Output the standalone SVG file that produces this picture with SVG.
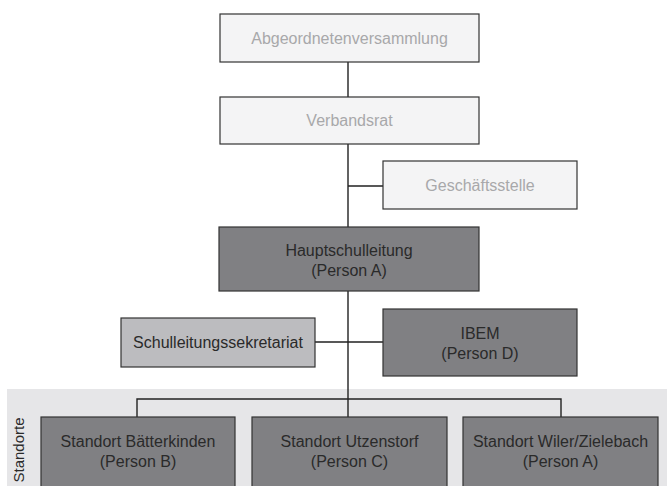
<svg xmlns="http://www.w3.org/2000/svg" width="667" height="486" viewBox="0 0 667 486">
<style>
.box{stroke:#333;stroke-width:1.2}
.light{fill:#f4f4f5}
.dark{fill:#808083}
.mid{fill:#bcbcbf}
text{font-family:"Liberation Sans",Arial,sans-serif;font-size:16px;text-anchor:middle}
.tl{fill:#a8a8aa}
.td{fill:#2a2a2a}
.conn{stroke:#222;stroke-width:1.4;fill:none}
</style>
<rect x="7" y="389" width="660" height="97" fill="#e6e6e8"/>
<text transform="translate(24,450) rotate(-90)" class="td" style="font-size:15px">Standorte</text>
<g id="connectors">
<path class="conn" d="M348 62V97M348 144V227M348 186H383M348 291V399M315 342H383M137 417V399H561V417M348 399V417"/>
</g>
<g id="abgeordnetenversammlung">
<rect class="box light" x="220" y="14" width="259" height="48"/>
<text class="tl" x="349.5" y="44">Abgeordnetenversammlung</text>
</g>
<g id="verbandsrat">
<rect class="box light" x="220" y="97" width="259" height="47"/>
<text class="tl" x="349.5" y="126">Verbandsrat</text>
</g>
<g id="geschaeftsstelle">
<rect class="box light" x="383" y="161" width="194" height="48"/>
<text class="tl" x="480" y="191">Geschäftsstelle</text>
</g>
<g id="hauptschulleitung">
<rect class="box dark" x="219" y="227" width="260" height="64"/>
<text class="td" x="349" y="256">Hauptschulleitung</text>
<text class="td" x="349" y="276">(Person A)</text>
</g>
<g id="schulleitungssekretariat">
<rect class="box mid" x="121" y="318" width="194" height="49"/>
<text class="td" x="218" y="348">Schulleitungssekretariat</text>
</g>
<g id="ibem">
<rect class="box dark" x="383" y="309" width="194" height="67"/>
<text class="td" x="480" y="339">IBEM</text>
<text class="td" x="480" y="359">(Person D)</text>
</g>
<g id="standort-baetterkinden">
<rect class="box dark" x="41" y="417" width="194" height="75"/>
<text class="td" x="138" y="447">Standort Bätterkinden</text>
<text class="td" x="138" y="467">(Person B)</text>
</g>
<g id="standort-utzenstorf">
<rect class="box dark" x="252" y="417" width="195" height="75"/>
<text class="td" x="349.5" y="447">Standort Utzenstorf</text>
<text class="td" x="349.5" y="467">(Person C)</text>
</g>
<g id="standort-wiler">
<rect class="box dark" x="463" y="417" width="195" height="75"/>
<text class="td" x="560.5" y="447">Standort Wiler/Zielebach</text>
<text class="td" x="560.5" y="467">(Person A)</text>
</g>
</svg>
